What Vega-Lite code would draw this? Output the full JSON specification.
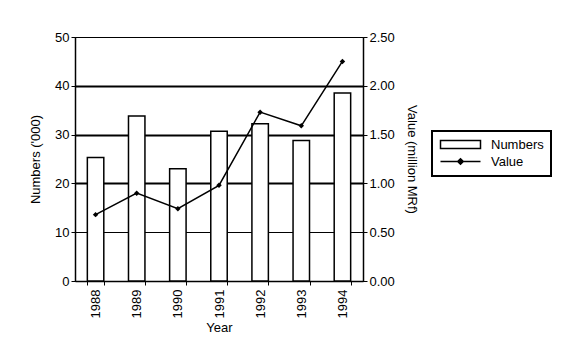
{
  "$schema": "https://vega.github.io/schema/vega-lite/v6.json",
  "autosize": {"type": "none"},
  "padding": {"left": 75, "top": 37, "right": 213, "bottom": 77},
  "width": 288,
  "height": 244,
  "background": "white",
  "data": {
    "values": [
      {"year": "1988", "numbers": 25.3, "value": 0.68},
      {"year": "1989", "numbers": 33.8, "value": 0.9},
      {"year": "1990", "numbers": 23.0, "value": 0.74},
      {"year": "1991", "numbers": 30.7, "value": 0.98},
      {"year": "1992", "numbers": 32.2, "value": 1.73},
      {"year": "1993", "numbers": 28.8, "value": 1.59},
      {"year": "1994", "numbers": 38.5, "value": 2.25}
    ]
  },
  "config": {
    "font": "Liberation Sans",
    "view": {"stroke": "black", "strokeWidth": 1},
    "axis": {
      "labelFont": "Liberation Sans",
      "titleFont": "Liberation Sans",
      "labelFontSize": 13,
      "titleFontSize": 13,
      "titleFontWeight": "normal",
      "labelColor": "black",
      "titleColor": "black",
      "domainColor": "black",
      "tickColor": "black",
      "domainWidth": 1.5,
      "tickSize": 4,
      "labelPadding": 2
    },
    "legend": {
      "labelFont": "Liberation Sans",
      "labelFontSize": 13,
      "labelColor": "black"
    }
  },
  "layer": [
    {
      "mark": {"type": "bar", "fill": "white", "stroke": "black", "strokeWidth": 1.5},
      "encoding": {
        "x": {
          "field": "year",
          "type": "nominal",
          "scale": {"paddingInner": 0.6, "paddingOuter": 0.3},
          "axis": {
            "title": "Year",
            "labelAngle": 270,
            "labelAlign": "right",
            "labelBaseline": "middle",
            "labelPadding": 4,
            "titlePadding": 4,
            "tickBand": "extent",
            "grid": false
          }
        },
        "y": {
          "field": "numbers",
          "type": "quantitative",
          "scale": {"domain": [0, 50], "nice": false},
          "axis": {
            "title": "Numbers ('000)",
            "values": [0, 10, 20, 30, 40, 50],
            "titlePadding": 12,
            "grid": true,
            "gridColor": "black",
            "gridOpacity": 1,
            "gridWidth": {"expr": "datum.value >= 20 && datum.value <= 40 ? 2 : 1"}
          }
        }
      }
    },
    {
      "mark": {"type": "line", "strokeWidth": 1.5, "point": {"shape": "diamond", "filled": true, "size": 30, "fill": "black"}},
      "encoding": {
        "x": {"field": "year", "type": "nominal"},
        "y": {
          "field": "value",
          "type": "quantitative",
          "scale": {"domain": [0, 2.5], "nice": false},
          "axis": {
            "orient": "right",
            "title": "Value (million MRf)",
            "values": [0, 0.5, 1, 1.5, 2, 2.5],
            "format": ".2f",
            "titlePadding": 10,
            "grid": false
          }
        },
        "color": {
          "datum": "Value",
          "type": "nominal",
          "scale": {"domain": ["Numbers", "Value"], "range": ["black", "black"]},
          "legend": {
            "title": null,
            "orient": "none",
            "legendX": 357,
            "legendY": 94,
            "padding": 7,
            "strokeColor": "black",
            "symbolSize": 64,
            "symbolOffset": 15,
            "labelOffset": 24,
            "rowPadding": 3,
            "encoding": {
              "legend": {"strokeWidth": {"value": 2}, "stroke": {"value": "black"}},
              "symbols": {
                "shape": {"value": {"expr": "datum.value === 'Numbers' ? 'M-5,-1L5,-1L5,1L-5,1Z' : 'M-5,0L5,0M0,-0.7L0.7,0L0,0.7L-0.7,0Z'"}},
                "fillOpacity": {"value": {"expr": "datum.value === 'Numbers' ? 0 : 1"}},
                "stroke": {"value": "black"},
                "strokeWidth": {"value": 1.5},
                "opacity": {"value": 1}
              }
            }
          }
        }
      }
    }
  ],
  "resolve": {"scale": {"y": "independent"}}
}
